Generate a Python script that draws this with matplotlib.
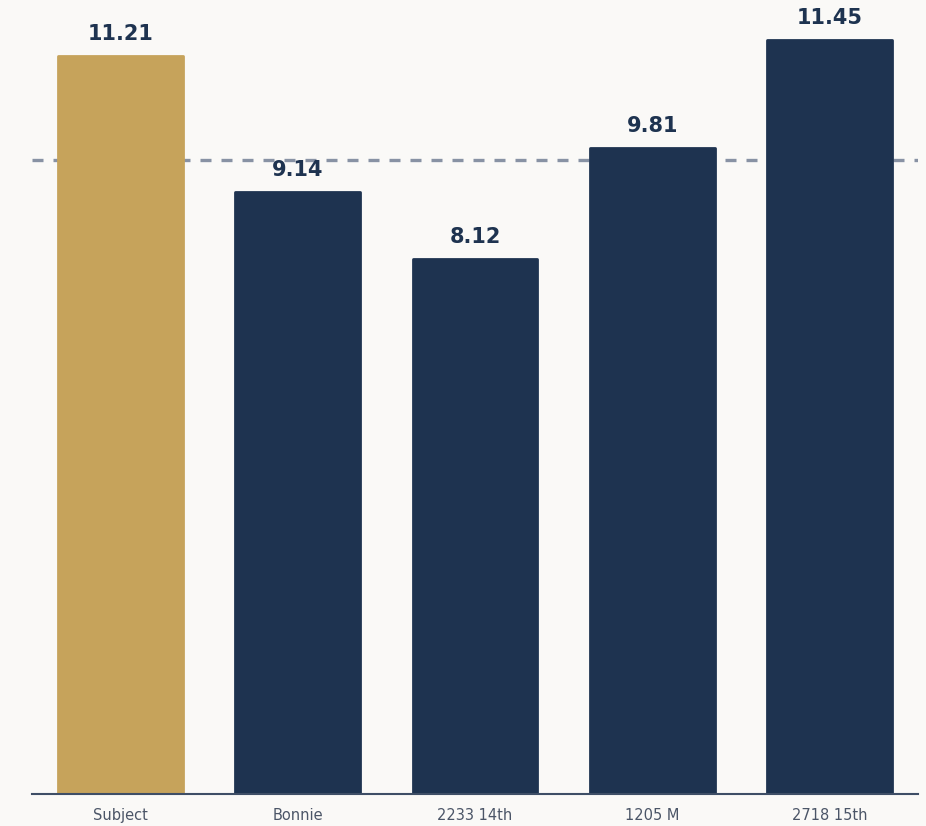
import matplotlib
matplotlib.use("Agg")
import matplotlib.pyplot as plt
import numpy as np

# rent per square foot, subject vs. comparables
names = ["Subject", "Bonnie", "2233 14th", "1205 M", "2718 15th"]
values = [11.21, 9.14, 8.12, 9.81, 11.45]
comp_avg = np.mean(values[1:])

gold = "#C6A35B"
navy = "#1E3350"
bg = "#FAF9F7"

fig = plt.figure(figsize=(9.26, 8.26), dpi=100, facecolor=bg)
ax = fig.add_axes([32 / 926, 32 / 826, 886 / 926, 790 / 826], facecolor=bg)

x = np.arange(len(names))
colors = [gold] + [navy] * (len(names) - 1)
bars = ax.bar(x, values, width=0.705, color=colors, edgecolor=colors,
              linewidth=2, joinstyle="round", zorder=3)

# average of the comparables
ax.axhline(comp_avg, color="#8892A4", linewidth=2.4, linestyle=(0, (3.3, 3)), zorder=1)

for xi, v in zip(x, values):
    ax.annotate(f"{v:.2f}", (xi, v), xytext=(0, 9), textcoords="offset points",
                ha="center", va="bottom", fontsize=15, fontweight="heavy", color=navy)

ax.set_xlim(-0.5, len(names) - 0.5)
ax.set_ylim(0, 12)
ax.set_xticks(x)
ax.set_xticklabels(names, fontsize=10.5, color="#4B5567")
ax.tick_params(axis="x", length=0, pad=10)
ax.set_yticks([])
for side in ["top", "right", "left"]:
    ax.spines[side].set_visible(False)
ax.spines["bottom"].set_color("#3E4E66")
ax.spines["bottom"].set_linewidth(1.5)
ax.spines["bottom"].set_zorder(4)

fig.savefig("out.png", dpi=100, facecolor=bg)
